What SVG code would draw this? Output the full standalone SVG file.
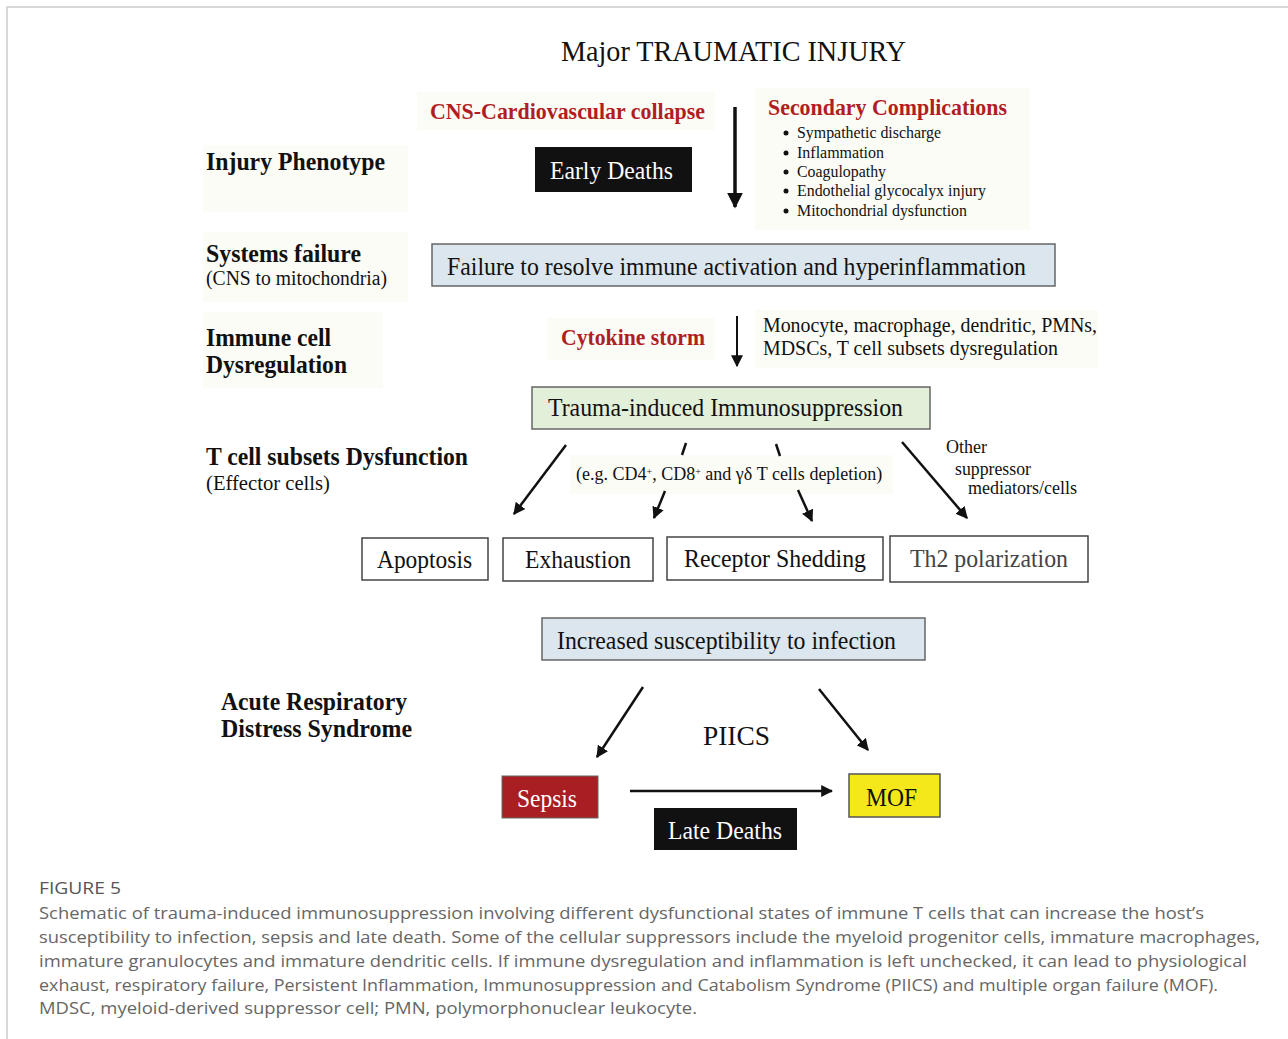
<svg xmlns="http://www.w3.org/2000/svg" width="1288" height="1039" viewBox="0 0 1288 1039">
<style>
.s{font-family:"Liberation Serif","Times New Roman",serif;fill:#111}
.b{font-weight:bold}
.red{fill:#b01e24;font-weight:bold}
.w{fill:#fff}
.bg{fill:#fcfcf7}
.box{stroke:#666;stroke-width:1.5}
.wbox{fill:#fff;stroke:#444;stroke-width:1.5}
.ln{stroke:#111;fill:none}
.cap{font-family:"Open Sans","Liberation Sans",sans-serif;fill:#666;font-size:17px}
</style>
<defs>
<marker id="ah" viewBox="0 0 10 10" refX="9" refY="5" markerWidth="12" markerHeight="12" markerUnits="userSpaceOnUse" orient="auto"><path d="M0,0 L10,5 L0,10 z" fill="#111"/></marker>
<marker id="ahb" viewBox="0 0 10 10" refX="9" refY="5" markerWidth="16" markerHeight="16" markerUnits="userSpaceOnUse" orient="auto"><path d="M0,0 L10,5 L0,10 z" fill="#111"/></marker>
</defs>
<rect width="1288" height="1039" fill="#fff"/>
<path d="M7,1039 V7 H1288" fill="none" stroke="#ccc" stroke-width="1.5"/>

<g id="backgrounds">
<rect class="bg" x="203" y="145" width="205" height="67"/>
<rect class="bg" x="417" y="92" width="298" height="38"/>
<rect class="bg" x="755" y="88" width="275" height="142"/>
<rect class="bg" x="203" y="232" width="205" height="70"/>
<rect class="bg" x="203" y="312" width="180" height="76"/>
<rect class="bg" x="547" y="318" width="168" height="42"/>
<rect class="bg" x="755" y="310" width="343" height="58"/>
<rect class="bg" x="570" y="455" width="323" height="39"/>
</g>

<g id="title"><text class="s" x="561" y="61" font-size="29" textLength="345" lengthAdjust="spacingAndGlyphs">Major TRAUMATIC INJURY</text></g>

<g id="row-labels">
<text class="s b" x="206" y="170" font-size="24.5" textLength="179" lengthAdjust="spacingAndGlyphs">Injury Phenotype</text>
<text class="s b" x="206" y="262" font-size="24.5" textLength="155" lengthAdjust="spacingAndGlyphs">Systems failure</text>
<text class="s" x="206" y="285" font-size="20" textLength="181" lengthAdjust="spacingAndGlyphs">(CNS to mitochondria)</text>
<text class="s b" x="206" y="346" font-size="24.5" textLength="125" lengthAdjust="spacingAndGlyphs">Immune cell</text>
<text class="s b" x="206" y="373" font-size="24.5" textLength="141" lengthAdjust="spacingAndGlyphs">Dysregulation</text>
<text class="s b" x="206" y="465" font-size="24.5" textLength="262" lengthAdjust="spacingAndGlyphs">T cell subsets Dysfunction</text>
<text class="s" x="206" y="490" font-size="20" textLength="124" lengthAdjust="spacingAndGlyphs">(Effector cells)</text>
<text class="s b" x="221" y="710" font-size="24.5" textLength="186" lengthAdjust="spacingAndGlyphs">Acute Respiratory</text>
<text class="s b" x="221" y="737" font-size="24.5" textLength="191" lengthAdjust="spacingAndGlyphs">Distress Syndrome</text>
</g>

<g id="cns"><text class="s red" x="430" y="119" font-size="23.5" textLength="275" lengthAdjust="spacingAndGlyphs">CNS-Cardiovascular collapse</text></g>

<g id="secondary">
<text class="s red" x="768" y="115" font-size="23.5" textLength="239" lengthAdjust="spacingAndGlyphs">Secondary Complications</text>
<g font-size="16.5">
<circle cx="786" cy="133" r="2.5" fill="#111"/><text class="s" x="797" y="138" textLength="144" lengthAdjust="spacingAndGlyphs">Sympathetic discharge</text>
<circle cx="786" cy="153" r="2.5" fill="#111"/><text class="s" x="797" y="158" textLength="87" lengthAdjust="spacingAndGlyphs">Inflammation</text>
<circle cx="786" cy="172" r="2.5" fill="#111"/><text class="s" x="797" y="177" textLength="89" lengthAdjust="spacingAndGlyphs">Coagulopathy</text>
<circle cx="786" cy="191" r="2.5" fill="#111"/><text class="s" x="797" y="196" textLength="189" lengthAdjust="spacingAndGlyphs">Endothelial glycocalyx injury</text>
<circle cx="786" cy="211" r="2.5" fill="#111"/><text class="s" x="797" y="216" textLength="170" lengthAdjust="spacingAndGlyphs">Mitochondrial dysfunction</text>
</g>
</g>

<g id="early-deaths">
<rect x="535" y="147" width="157" height="45" fill="#111"/>
<text class="s w" x="550" y="179" font-size="25" textLength="123" lengthAdjust="spacingAndGlyphs">Early Deaths</text>
</g>

<g id="failure">
<rect class="box" x="432" y="244" width="623" height="42" fill="#dce6ee"/>
<text class="s" x="447" y="275" font-size="25" textLength="579" lengthAdjust="spacingAndGlyphs">Failure to resolve immune activation and hyperinflammation</text>
</g>

<g id="cytokine"><text class="s red" x="561" y="345" font-size="22.5" textLength="144" lengthAdjust="spacingAndGlyphs">Cytokine storm</text></g>

<g id="monocyte">
<text class="s" x="763" y="332" font-size="20" textLength="334" lengthAdjust="spacingAndGlyphs">Monocyte, macrophage, dendritic, PMNs,</text>
<text class="s" x="763" y="355" font-size="20" textLength="295" lengthAdjust="spacingAndGlyphs">MDSCs, T cell subsets dysregulation</text>
</g>

<g id="immunosuppression">
<rect class="box" x="532" y="387" width="398" height="42" fill="#e2efd9"/>
<text class="s" x="548" y="416" font-size="25" textLength="355" lengthAdjust="spacingAndGlyphs">Trauma-induced Immunosuppression</text>
</g>

<g id="depletion">
<text class="s" x="576" y="480" font-size="18">(e.g. CD4<tspan font-size="10" baseline-shift="super">+</tspan>, CD8<tspan font-size="10" baseline-shift="super">+</tspan> and γδ T cells depletion)</text>
</g>

<g id="other">
<text class="s" x="946" y="453" font-size="18" textLength="41" lengthAdjust="spacingAndGlyphs">Other</text>
<text class="s" x="955" y="475" font-size="18" textLength="76" lengthAdjust="spacingAndGlyphs">suppressor</text>
<text class="s" x="968" y="494" font-size="18" textLength="109" lengthAdjust="spacingAndGlyphs">mediators/cells</text>
</g>

<g id="apoptosis"><rect class="wbox" x="362" y="538" width="126" height="42"/><text class="s" x="377" y="568" font-size="25" textLength="95" lengthAdjust="spacingAndGlyphs">Apoptosis</text></g>
<g id="exhaustion"><rect class="wbox" x="503" y="538" width="150" height="43"/><text class="s" x="525" y="568" font-size="25" textLength="106" lengthAdjust="spacingAndGlyphs">Exhaustion</text></g>
<g id="shedding"><rect class="wbox" x="667" y="537" width="216" height="43"/><text class="s" x="684" y="567" font-size="25" textLength="182" lengthAdjust="spacingAndGlyphs">Receptor Shedding</text></g>
<g id="th2"><rect class="wbox" x="890" y="536" width="198" height="46" stroke="#666"/><text class="s" x="910" y="567" font-size="25" style="fill:#444" textLength="158" lengthAdjust="spacingAndGlyphs">Th2 polarization</text></g>

<g id="susceptibility">
<rect class="box" x="542" y="618" width="383" height="42" fill="#dce6ee"/>
<text class="s" x="557" y="649" font-size="25" textLength="339" lengthAdjust="spacingAndGlyphs">Increased susceptibility to infection</text>
</g>

<g id="piics"><text class="s" x="703" y="745" font-size="28" textLength="67" lengthAdjust="spacingAndGlyphs">PIICS</text></g>

<g id="sepsis"><rect x="502" y="776" width="96" height="42" fill="#a81e22" stroke="#666"/><text class="s w" x="517" y="807" font-size="25" textLength="60" lengthAdjust="spacingAndGlyphs">Sepsis</text></g>
<g id="mof"><rect x="849" y="774" width="91" height="43" fill="#f5e81a" stroke="#555" stroke-width="1.5"/><text class="s" x="866" y="806" font-size="25" textLength="51" lengthAdjust="spacingAndGlyphs">MOF</text></g>
<g id="late-deaths"><rect x="654" y="808" width="143" height="42" fill="#111"/><text class="s w" x="668" y="839" font-size="25" textLength="114" lengthAdjust="spacingAndGlyphs">Late Deaths</text></g>

<g id="connectors">
<line class="ln" x1="735" y1="107" x2="735" y2="207" stroke-width="3.5" marker-end="url(#ahb)"/>
<line class="ln" x1="737" y1="316" x2="737" y2="366" stroke-width="2" marker-end="url(#ah)"/>
<line class="ln" x1="566" y1="445" x2="514" y2="514" stroke-width="2.5" marker-end="url(#ah)"/>
<line class="ln" x1="686" y1="443" x2="682" y2="455" stroke-width="2.5"/>
<line class="ln" x1="665" y1="491" x2="654" y2="518" stroke-width="2.5" marker-end="url(#ah)"/>
<line class="ln" x1="776" y1="444" x2="780" y2="456" stroke-width="2.5"/>
<line class="ln" x1="798" y1="490" x2="812" y2="521" stroke-width="2.5" marker-end="url(#ah)"/>
<line class="ln" x1="902" y1="442" x2="967" y2="518" stroke-width="2.5" marker-end="url(#ah)"/>
<line class="ln" x1="643" y1="687" x2="597" y2="757" stroke-width="2.5" marker-end="url(#ah)"/>
<line class="ln" x1="819" y1="689" x2="868" y2="750" stroke-width="2.5" marker-end="url(#ah)"/>
<line class="ln" x1="630" y1="791" x2="832" y2="791" stroke-width="2.5" marker-end="url(#ah)"/>
</g>

<g id="caption">
<text class="cap" x="39" y="894" style="fill:#555" textLength="82" lengthAdjust="spacingAndGlyphs">FIGURE 5</text>
<text class="cap" x="39" y="919" textLength="1165" lengthAdjust="spacingAndGlyphs">Schematic of trauma-induced immunosuppression involving different dysfunctional states of immune T cells that can increase the host’s</text>
<text class="cap" x="39" y="943" textLength="1221" lengthAdjust="spacingAndGlyphs">susceptibility to infection, sepsis and late death. Some of the cellular suppressors include the myeloid progenitor cells, immature macrophages,</text>
<text class="cap" x="39" y="967" textLength="1208" lengthAdjust="spacingAndGlyphs">immature granulocytes and immature dendritic cells. If immune dysregulation and inflammation is left unchecked, it can lead to physiological</text>
<text class="cap" x="39" y="991" textLength="1179" lengthAdjust="spacingAndGlyphs">exhaust, respiratory failure, Persistent Inflammation, Immunosuppression and Catabolism Syndrome (PIICS) and multiple organ failure (MOF).</text>
<text class="cap" x="39" y="1014" textLength="658" lengthAdjust="spacingAndGlyphs">MDSC, myeloid-derived suppressor cell; PMN, polymorphonuclear leukocyte.</text>
</g>
</svg>
